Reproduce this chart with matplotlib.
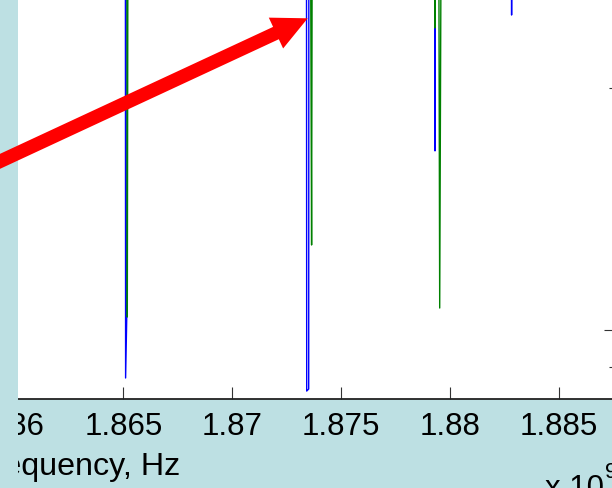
import matplotlib
matplotlib.use('Agg')
import matplotlib.pyplot as plt
from matplotlib.patches import Rectangle, FancyArrow

plt.rcParams['font.family'] = ['Liberation Sans', 'DejaVu Sans']

# frequency sweep, Hz / magnitude (log scale)
blue_f = [1.8590e9, 1.8650919e9, 1.8651057e9, 1.8651700e9, 1.8651791e9,
          1.8734107e9, 1.8734245e9, 1.8735164e9, 1.8735255e9,
          1.8792950e9, 1.8793180e9, 1.8793455e9,
          1.8828228e9, 1.8828366e9, 1.8828549e9, 1.8880e9]
blue_mag = [5, 5, 0.8716, 1.0773, 5,
            5, 0.8396, 0.8445, 5,
            5, 1.6703, 5,
            5, 2.4649, 5, 5]

green_f = [1.8590e9, 1.8651562e9, 1.8651837e9, 1.8652251e9,
           1.8735761e9, 1.8736496e9, 1.8736909e9,
           1.8792996e9, 1.8793180e9, 1.8793409e9,
           1.8794741e9, 1.8795338e9, 1.8796257e9, 1.8880e9]
green_mag = [5, 5, 1.0379, 5,
             5, 1.2757, 5,
             5, 2.3749, 5,
             5, 1.0650, 5, 5]

xticks = [1.86e9, 1.865e9, 1.87e9, 1.875e9, 1.88e9, 1.885e9]
xticklabels = ['1.86', '1.865', '1.87', '1.875', '1.88', '1.885']

bg = '#bde0e3'
fs = 22.5

fig = plt.figure(figsize=(6.12, 4.89), dpi=100, facecolor=bg)
# axes runs past the top and right edge of the picture (cropped view)
ax = fig.add_axes([0, 89/489, 616/612, 450/489])
ax.set_facecolor('white')

ax.plot(blue_f, blue_mag, color=(0, 0, 1), lw=1.0)
ax.plot(green_f, green_mag, color=(0, 0.5, 0), lw=1.0)

ax.set_yscale('log')
ax.set_xlim(1.8593362e9, 1.8876322e9)
ax.set_ylim(0.8207, 2.978)
ax.set_xticks(xticks)
ax.set_xticklabels(xticklabels)

ax.tick_params(axis='x', direction='in', length=8.6, width=0.8, color='#333333',
               labelsize=fs, pad=9, top=False)
ax.tick_params(axis='y', which='both', direction='in', left=True, right=True,
               labelleft=False, labelright=False, width=0.8, color='#333333')
ax.tick_params(axis='y', which='major', length=8.6)
ax.tick_params(axis='y', which='minor', length=5)
for s in ax.spines.values():
    s.set_color('#222222')
ax.spines['bottom'].set_linewidth(1.3)

# light strip covering the left edge
fig.add_artist(Rectangle((0, 0), 17.5/612, 1.0, transform=fig.transFigure,
                         facecolor=bg, edgecolor='none', zorder=1))

# red arrow pointing to the spike
arr = FancyArrow(-0.10, 3.22, 3.177, 1.477, width=0.136, head_width=0.34,
                 head_length=0.35, length_includes_head=True,
                 facecolor='red', edgecolor='none', transform=fig.dpi_scale_trans, zorder=2)
fig.add_artist(arr)

fig.text(180/612, 14/489, 'Frequency, Hz', ha='right', va='baseline', fontsize=23.2, zorder=0.5)
fig.text(545/612, -8/489, 'x 10', ha='left', va='baseline', fontsize=fs)
fig.text(605/612, 11/489, '9', ha='left', va='baseline', fontsize=16)

fig.savefig('out.png', dpi=100, facecolor=bg)
